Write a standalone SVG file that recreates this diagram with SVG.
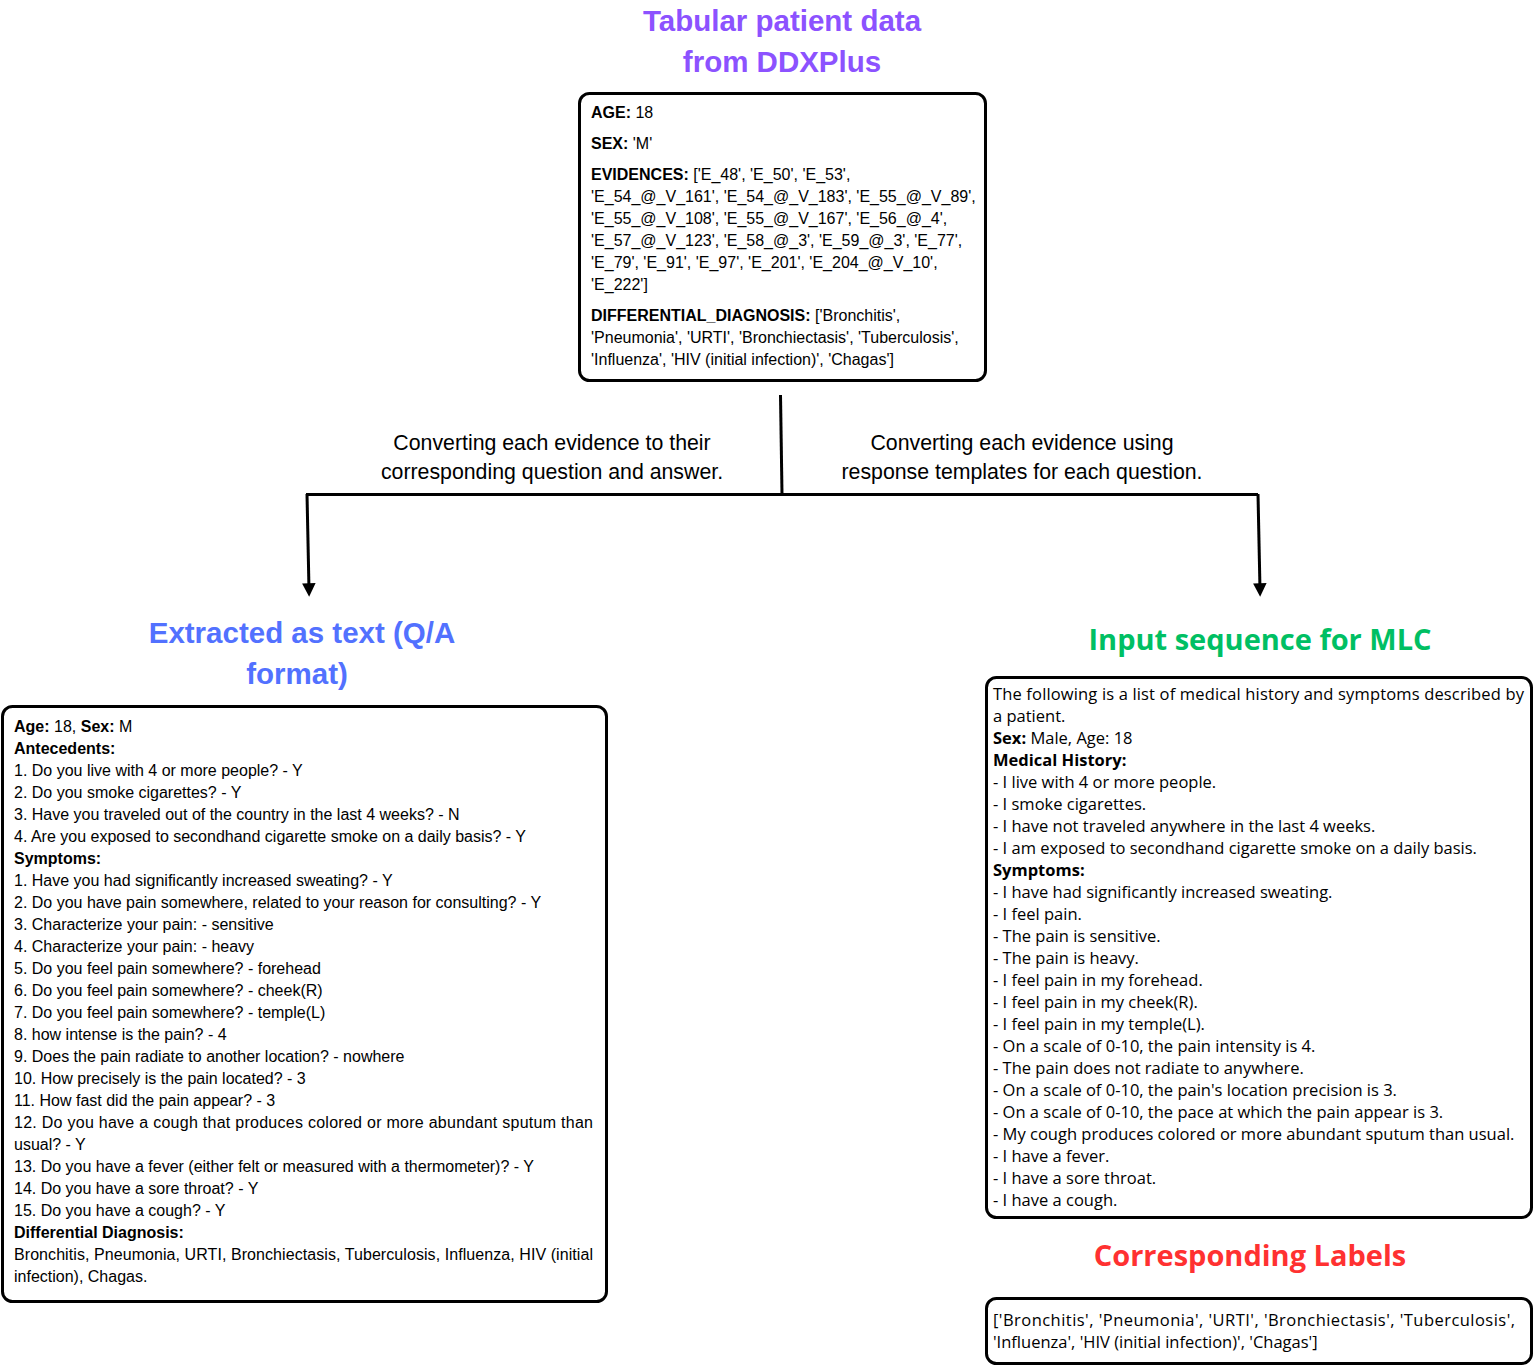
<svg xmlns="http://www.w3.org/2000/svg" width="1534" height="1367" viewBox="0 0 1534 1367">
<defs>
<style>
.box{fill:#fff;stroke:#000;stroke-width:3}
.t{font-family:"Liberation Sans",Arial,sans-serif;font-size:16px;fill:#000}
.o{font-family:"Open Sans",sans-serif;font-size:16.5px;fill:#000}
.b{font-weight:bold}
.ttl{font-family:"Liberation Sans",Arial,sans-serif;font-size:29.5px;font-weight:bold;text-anchor:middle}
.ttlo{font-family:"Open Sans",sans-serif;font-size:29px;font-weight:bold;text-anchor:middle}
.lab{font-family:"Liberation Sans",Arial,sans-serif;font-size:21.3px;text-anchor:middle;fill:#000}
.ln{fill:none;stroke:#000;stroke-width:3}
</style>
<marker id="ah" viewBox="0 0 10 10" refX="5" refY="5" markerWidth="4.5" markerHeight="4.5" orient="auto">
<path d="M0,0 L10,5 L0,10 z" fill="#000"/>
</marker>
</defs>
<rect width="1534" height="1367" fill="#fff"/>

<g id="tabular">
<text class="ttl" x="782" y="31" fill="#8c52ff">Tabular patient data</text>
<text class="ttl" x="782" y="72" fill="#8c52ff">from DDXPlus</text>
<rect class="box" x="579.5" y="93.5" width="406" height="287" rx="10"/>
<text class="t" x="591" y="118"><tspan class="b">AGE:</tspan> 18</text>
<text class="t" x="591" y="149"><tspan class="b">SEX:</tspan> 'M'</text>
<text class="t" x="591" y="180"><tspan class="b">EVIDENCES:</tspan> ['E_48', 'E_50', 'E_53',</text>
<text class="t" x="591" y="202">'E_54_@_V_161', 'E_54_@_V_183', 'E_55_@_V_89',</text>
<text class="t" x="591" y="224">'E_55_@_V_108', 'E_55_@_V_167', 'E_56_@_4',</text>
<text class="t" x="591" y="246">'E_57_@_V_123', 'E_58_@_3', 'E_59_@_3', 'E_77',</text>
<text class="t" x="591" y="268">'E_79', 'E_91', 'E_97', 'E_201', 'E_204_@_V_10',</text>
<text class="t" x="591" y="290">'E_222']</text>
<text class="t" x="591" y="321"><tspan class="b">DIFFERENTIAL_DIAGNOSIS:</tspan> ['Bronchitis',</text>
<text class="t" x="591" y="343">'Pneumonia', 'URTI', 'Bronchiectasis', 'Tuberculosis',</text>
<text class="t" x="591" y="365">'Influenza', 'HIV (initial infection)', 'Chagas']</text>
</g>

<g id="connectors">
<path class="ln" d="M780.5,395 L782,494"/>
<path class="ln" d="M306,494.5 L1258,494.5"/>
<path class="ln" d="M307,494 L309,590" marker-end="url(#ah)"/>
<path class="ln" d="M1258,494 L1260,590" marker-end="url(#ah)"/>
<text class="lab" x="552" y="450">Converting each evidence to their</text>
<text class="lab" x="552" y="479">corresponding question and answer.</text>
<text class="lab" x="1022" y="450">Converting each evidence using</text>
<text class="lab" x="1022" y="479">response templates for each question.</text>
</g>

<g id="qa">
<text class="ttl" x="302" y="643" fill="#5271ff">Extracted as text (Q/A</text>
<text class="ttl" x="297" y="684" fill="#5271ff">format)</text>
<rect class="box" x="2.5" y="706.5" width="604" height="595" rx="10"/>
<text class="t" x="14" y="732"><tspan class="b">Age:</tspan> 18, <tspan class="b">Sex:</tspan> M</text>
<text class="t b" x="14" y="754">Antecedents:</text>
<text class="t" x="14" y="776">1. Do you live with 4 or more people? - Y</text>
<text class="t" x="14" y="798">2. Do you smoke cigarettes? - Y</text>
<text class="t" x="14" y="820">3. Have you traveled out of the country in the last 4 weeks? - N</text>
<text class="t" x="14" y="842">4. Are you exposed to secondhand cigarette smoke on a daily basis? - Y</text>
<text class="t b" x="14" y="864">Symptoms:</text>
<text class="t" x="14" y="886">1. Have you had significantly increased sweating? - Y</text>
<text class="t" x="14" y="908">2. Do you have pain somewhere, related to your reason for consulting? - Y</text>
<text class="t" x="14" y="930">3. Characterize your pain: - sensitive</text>
<text class="t" x="14" y="952">4. Characterize your pain: - heavy</text>
<text class="t" x="14" y="974">5. Do you feel pain somewhere? - forehead</text>
<text class="t" x="14" y="996">6. Do you feel pain somewhere? - cheek(R)</text>
<text class="t" x="14" y="1018">7. Do you feel pain somewhere? - temple(L)</text>
<text class="t" x="14" y="1040">8. how intense is the pain? - 4</text>
<text class="t" x="14" y="1062">9. Does the pain radiate to another location? - nowhere</text>
<text class="t" x="14" y="1084">10. How precisely is the pain located? - 3</text>
<text class="t" x="14" y="1106">11. How fast did the pain appear? - 3</text>
<text class="t" x="14" y="1128" textLength="579" lengthAdjust="spacing">12. Do you have a cough that produces colored or more abundant sputum than</text>
<text class="t" x="14" y="1150">usual? - Y</text>
<text class="t" x="14" y="1172">13. Do you have a fever (either felt or measured with a thermometer)? - Y</text>
<text class="t" x="14" y="1194">14. Do you have a sore throat? - Y</text>
<text class="t" x="14" y="1216">15. Do you have a cough? - Y</text>
<text class="t b" x="14" y="1238">Differential Diagnosis:</text>
<text class="t" x="14" y="1260" textLength="579" lengthAdjust="spacing">Bronchitis, Pneumonia, URTI, Bronchiectasis, Tuberculosis, Influenza, HIV (initial</text>
<text class="t" x="14" y="1282">infection), Chagas.</text>
</g>

<g id="mlc">
<text class="ttlo" x="1260" y="650" fill="#00bf63">Input sequence for MLC</text>
<rect class="box" x="986.5" y="677.5" width="545" height="540" rx="10"/>
<text class="o" x="993" y="700" textLength="531" lengthAdjust="spacing">The following is a list of medical history and symptoms described by</text>
<text class="o" x="993" y="722">a patient.</text>
<text class="o" x="993" y="744"><tspan class="b">Sex:</tspan> Male, Age: 18</text>
<text class="o b" x="993" y="766">Medical History:</text>
<text class="o" x="993" y="788">- I live with 4 or more people.</text>
<text class="o" x="993" y="810">- I smoke cigarettes.</text>
<text class="o" x="993" y="832">- I have not traveled anywhere in the last 4 weeks.</text>
<text class="o" x="993" y="854">- I am exposed to secondhand cigarette smoke on a daily basis.</text>
<text class="o b" x="993" y="876">Symptoms:</text>
<text class="o" x="993" y="898">- I have had significantly increased sweating.</text>
<text class="o" x="993" y="920">- I feel pain.</text>
<text class="o" x="993" y="942">- The pain is sensitive.</text>
<text class="o" x="993" y="964">- The pain is heavy.</text>
<text class="o" x="993" y="986">- I feel pain in my forehead.</text>
<text class="o" x="993" y="1008">- I feel pain in my cheek(R).</text>
<text class="o" x="993" y="1030">- I feel pain in my temple(L).</text>
<text class="o" x="993" y="1052">- On a scale of 0-10, the pain intensity is 4.</text>
<text class="o" x="993" y="1074">- The pain does not radiate to anywhere.</text>
<text class="o" x="993" y="1096">- On a scale of 0-10, the pain's location precision is 3.</text>
<text class="o" x="993" y="1118">- On a scale of 0-10, the pace at which the pain appear is 3.</text>
<text class="o" x="993" y="1140">- My cough produces colored or more abundant sputum than usual.</text>
<text class="o" x="993" y="1162">- I have a fever.</text>
<text class="o" x="993" y="1184">- I have a sore throat.</text>
<text class="o" x="993" y="1206">- I have a cough.</text>
</g>

<g id="labels">
<text class="ttlo" x="1250" y="1266" fill="#ff3131">Corresponding Labels</text>
<rect class="box" x="986.5" y="1298.5" width="545" height="65" rx="10"/>
<text class="o" x="993" y="1326" textLength="522" lengthAdjust="spacing">['Bronchitis',  'Pneumonia',  'URTI',  'Bronchiectasis',  'Tuberculosis',</text>
<text class="o" x="993" y="1348">'Influenza', 'HIV (initial infection)', 'Chagas']</text>
</g>
</svg>
